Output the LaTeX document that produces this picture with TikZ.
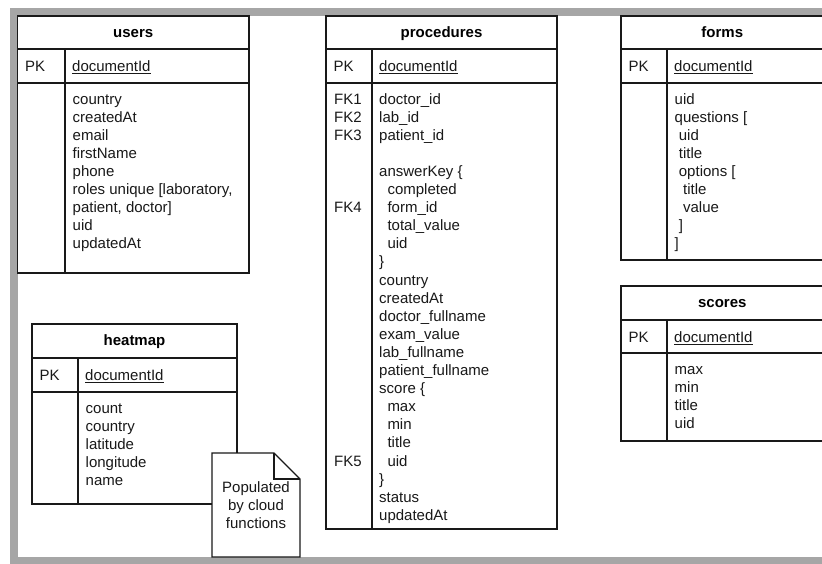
\documentclass[tikz,border=0pt]{standalone}
\usepackage{fontspec}
\setmainfont{Liberation Sans}
\definecolor{framegray}{RGB}{166,166,166}
\newcommand\ind[1]{\hspace*{#1pt}}
\newcommand\entity[9]{%
  \draw[tbl, fill=white] (#3,#6) rectangle (#5,#9);
  \draw[tbl] (#3,#7) -- (#5,#7);
  \draw[tbl] (#3,#8) -- (#5,#8);
  \draw[tbl] (#4,#7) -- (#4,#9);
  \node[ttl] (#1-title) at ({(#3+#5)/2},{(#6+#7)/2+4.5}) {#2};
  \node[txt] (#1-pk) at ({#3+7.5},{(#7+#8)/2+5.8}) {PK};
  \node[txt] (#1-id) at ({#4+7},{(#7+#8)/2+5.8}) {\underline{documentId}};
}
\newcommand\fieldlist[4]{%
  \foreach \t [count=\i] in {#4}
    \node[txt] (#1-l\i) at ({#2},{#3+18.1*(\i-1)}) {\t};
}
\begin{document}
\begin{tikzpicture}[x=1pt,y=-1pt,
  tbl/.style={draw=black!90, line width=1.2pt},
  ttl/.style={font=\bfseries\fontsize{15}{18.1}\selectfont, anchor=base, inner sep=0pt},
  txt/.style={font=\fontsize{15}{18.1}\selectfont, anchor=base west, inner sep=0pt, text=black!90},
  notebox/.style={draw=black!90, line width=1.2pt, fill=white, line join=miter},
]
\useasboundingbox (0,0) rectangle (822,563);
\clip (0,0) rectangle (822,563);
\fill[white] (0,0) rectangle (822,563);
\fill[framegray] (10,8) rectangle (840,580);
\fill[white] (17.5,16) rectangle (840,557);

% users
\entity{users}{users}{17.5}{65}{249}{16}{49}{83}{273}
\fieldlist{users}{72.5}{104}{country,createdAt,email,firstName,phone,{roles unique [laboratory,},{patient, doctor]},uid,updatedAt}

% procedures
\entity{proc}{procedures}{326}{372}{557}{16}{49}{83}{529}
\fieldlist{proca}{379}{104}{doctor\_id,lab\_id,patient\_id}
\fieldlist{procb}{379}{176.4}{answerKey \{,\ind{8.3}completed,\ind{8.3}form\_id,\ind{8.3}total\_value,\ind{8.3}uid,\},country,createdAt,doctor\_fullname,exam\_value,lab\_fullname,patient\_fullname,score \{,\ind{8.3}max,\ind{8.3}min,\ind{8.3}title,\ind{8.3}uid,\},status,updatedAt}
\node[txt] (fk1) at (334,104) {FK1};
\node[txt] (fk2) at (334,122.1) {FK2};
\node[txt] (fk3) at (334,140.2) {FK3};
\node[txt] (fk4) at (334,212.6) {FK4};
\node[txt] (fk5) at (334,466) {FK5};

% forms
\entity{forms}{forms}{621}{667}{823.5}{16}{49}{83}{260}
\fieldlist{forms}{674.5}{104}{uid,questions [,\ind{4.2}uid,\ind{4.2}title,\ind{4.2}options [,\ind{8.4}title,\ind{8.4}value,\ind{4.2}],]}

% scores
\entity{scores}{scores}{621}{667}{823.5}{286}{320}{353}{441}
\fieldlist{scores}{674.5}{374}{max,min,title,uid}

% heatmap
\entity{heat}{heatmap}{32}{78}{237}{324}{358}{392}{504}
\fieldlist{heat}{85.5}{413}{count,country,latitude,longitude,name}

% note
\draw[notebox] (212,453) -- (274,453) -- (300,479) -- (300,557) -- (212,557) -- cycle;
\draw[notebox, fill=none] (274,453) -- (274,479) -- (300,479);
\node[font=\fontsize{15}{18.1}\selectfont, align=center, inner sep=0pt, text=black!90] (note) at (256,505) {Populated\\by cloud\\functions};
\end{tikzpicture}
\end{document}
